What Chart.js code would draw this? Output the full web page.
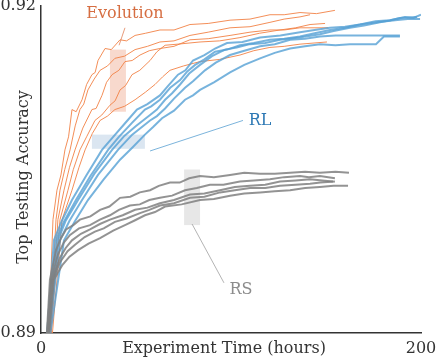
<!DOCTYPE html>
<html>
<head>
<meta charset="utf-8">
<script src="https://cdn.jsdelivr.net/npm/chart.js@4"></script>
<style>
  body { margin: 0; background: #fff; }
</style>
</head>
<body>
<canvas id="chart" width="436" height="364"></canvas>
<script>
// 轴范围与刻度
const xTicks = [0, 200];
const yTicks = [0.89, 0.92];

// Evolution 曲线 (小时, 准确率)
const evo1 = [[3.7,0.8885],[6.3,0.9004],[8.4,0.9031],[10.5,0.9045],[12.6,0.9068],[14.5,0.9080],[16.3,0.9105],[18.5,0.9103],[21.6,0.9114],[24,0.9128],[26.8,0.9137],[28.5,0.9139],[30.0,0.9150],[33.7,0.9161],[37,0.9160],[41.6,0.9169],[45,0.9168],[49.5,0.9173],[55,0.9175],[62.6,0.9178],[70,0.9178],[78.4,0.9183],[88,0.9184],[99.5,0.9187],[110,0.9188],[120.5,0.9192],[128,0.9192],[136.3,0.9194],[145,0.9193],[154.7,0.9196]];
const evo2 = [[4.2,0.8885],[7.9,0.9004],[10.0,0.9031],[12.5,0.9050],[15.3,0.9068],[18,0.9090],[20.5,0.9105],[22.5,0.9110],[24.7,0.9123],[28,0.9133],[31.1,0.9141],[35,0.9145],[38.9,0.9152],[44,0.9154],[49.5,0.9160],[56,0.9163],[62.6,0.9167],[70,0.9168],[78.4,0.9173],[88,0.9176],[99.5,0.9180],[110,0.9181],[120.5,0.9185],[128,0.9188],[136.3,0.9190],[141.6,0.9192]];
const evo3 = [[4.7,0.8885],[8.9,0.9004],[12.1,0.9031],[15,0.9052],[17.9,0.9068],[22,0.9088],[26.8,0.9105],[29,0.9106],[32.1,0.9118],[34.5,0.9130],[37.4,0.9137],[41,0.9141],[44.2,0.9149],[48,0.9150],[52.1,0.9155],[57,0.9159],[62.6,0.9161],[70,0.9163],[78.4,0.9169],[88,0.9170],[99.5,0.9173],[110,0.9176],[120.5,0.9178],[128,0.9178],[136.3,0.9180],[151.1,0.9180]];
const evo4 = [[4.7,0.8885],[10.0,0.9004],[14.2,0.9031],[17,0.9050],[20.5,0.9068],[24,0.9080],[28.4,0.9095],[32,0.9100],[36.3,0.9109],[39,0.9113],[41.6,0.9123],[44.5,0.9127],[47.9,0.9137],[52,0.9141],[57.4,0.9150],[61,0.9158],[65.3,0.9164],[72,0.9165],[83.7,0.9167],[94,0.9168],[104.7,0.9171],[115,0.9175],[125.8,0.9178],[134,0.9180],[141.6,0.9183],[149.5,0.9184]];
const evo5 = [[5.3,0.8885],[11.1,0.9004],[16.3,0.9031],[20,0.9052],[23.2,0.9068],[27,0.9083],[31.1,0.9095],[35,0.9099],[38.9,0.9105],[44,0.9108],[49.5,0.9114],[55,0.9121],[60.0,0.9128],[64,0.9135],[67.9,0.9141],[75,0.9145],[83.7,0.9149],[94,0.9151],[104.7,0.9155],[112,0.9159],[120.5,0.9162],[128,0.9163],[136.3,0.9165],[150.5,0.9167]];

// RL 曲线
const rl1 = [[2.6,0.8885],[6.8,0.8985],[11,0.9003],[16.3,0.9022],[24,0.9045],[32.1,0.9068],[38,0.9080],[44,0.9092],[50.5,0.9105],[56,0.9110],[62.6,0.9118],[67,0.9127],[72.1,0.9137],[76,0.9141],[80.0,0.9150],[86,0.9155],[91.6,0.9161],[97.9,0.9166],[106,0.9167],[115.3,0.9171],[126,0.9173],[136.3,0.9176],[144,0.9178],[152.1,0.9180],[160,0.9181],[167.9,0.9183],[176,0.9186],[183.7,0.9187],[191.6,0.9190],[196,0.9189],[200,0.9192]];
const rl2 = [[2.6,0.8885],[7.9,0.8985],[12,0.9002],[18.4,0.9022],[26,0.9044],[35.3,0.9068],[41,0.9080],[48,0.9093],[54.7,0.9105],[58,0.9108],[62.6,0.9114],[68,0.9125],[73.2,0.9132],[77,0.9140],[81.1,0.9146],[86,0.9151],[91.6,0.9158],[98,0.9160],[104.7,0.9164],[112,0.9166],[120.5,0.9169],[128,0.9170],[136.3,0.9172],[144,0.9175],[152.1,0.9178],[160,0.9180],[167.9,0.9183],[177,0.9185],[186.3,0.9187],[193,0.9188],[199.5,0.9188]];
const rl3 = [[3.2,0.8885],[8.9,0.8985],[13,0.9003],[19.5,0.9022],[28,0.9046],[37.4,0.9068],[44,0.9081],[50,0.9090],[57.4,0.9100],[61,0.9105],[65.3,0.9114],[69,0.9120],[73.2,0.9128],[78,0.9138],[83.7,0.9146],[90,0.9154],[96.8,0.9160],[103,0.9162],[110.0,0.9165],[118,0.9166],[125.8,0.9169],[136,0.9171],[146.8,0.9174],[154,0.9177],[162.6,0.9180],[170,0.9182],[178.4,0.9185],[184,0.9187],[188.9,0.9189],[197.9,0.9190]];
const rl4 = [[3.2,0.8885],[10.0,0.8985],[15,0.9003],[21.6,0.9022],[30,0.9045],[40.5,0.9068],[48,0.9082],[57.4,0.9095],[61,0.9099],[65.3,0.9106],[70,0.9115],[75.8,0.9125],[80,0.9131],[86.3,0.9141],[92,0.9148],[99.5,0.9155],[107,0.9159],[115.3,0.9163],[123,0.9165],[131.1,0.9169],[139,0.9170],[146.8,0.9172],[155,0.9173],[162.6,0.9173],[188.9,0.9173]];
const rl5 = [[3.7,0.8885],[12.1,0.8985],[18,0.9003],[24.7,0.9022],[33,0.9041],[41.6,0.9059],[48,0.9070],[54.7,0.9082],[59,0.9089],[63.7,0.9097],[70,0.9104],[75.8,0.9114],[80,0.9118],[83.7,0.9123],[91,0.9130],[99.5,0.9139],[107,0.9146],[115.3,0.9152],[123,0.9157],[131.1,0.9161],[139,0.9163],[146.8,0.9165],[155,0.9164],[162.6,0.9165],[176.3,0.9165],[180.5,0.9172],[188.9,0.9172]];

// RS 曲线
const rs1 = [[2.6,0.8885],[4.7,0.8949],[7.9,0.8976],[10.5,0.8987],[13.2,0.8995],[17,0.8999],[20.5,0.9004],[26,0.9007],[31.1,0.9013],[36,0.9016],[41.6,0.9024],[47,0.9025],[52,0.9029],[57.4,0.9031],[62,0.9035],[67.9,0.9038],[73,0.9038],[78,0.9042],[83.7,0.9044],[91,0.9043],[99.5,0.9045],[107,0.9047],[115.3,0.9046],[123,0.9046],[131.1,0.9047],[139,0.9048],[146.8,0.9047],[155,0.9048],[162.1,0.9047]];
const rs2 = [[2.6,0.8885],[5.3,0.8949],[8.9,0.8972],[12,0.8983],[15.3,0.8990],[20,0.8996],[25.8,0.8999],[31,0.9004],[36.3,0.9008],[41,0.9013],[46.8,0.9017],[52,0.9018],[57,0.9022],[62.6,0.9024],[69,0.9026],[75.8,0.9031],[82,0.9033],[88.9,0.9036],[96,0.9036],[104.7,0.9039],[112,0.9040],[120.5,0.9041],[128,0.9043],[136.3,0.9044],[141,0.9043],[146.8,0.9044],[154.7,0.9042]];
const rs3 = [[3.2,0.8885],[5.8,0.8949],[10.0,0.8969],[13,0.8978],[16.3,0.8985],[21,0.8991],[25.8,0.8995],[31,0.9000],[36.3,0.9004],[43,0.9008],[49.5,0.9013],[56,0.9015],[62.6,0.9019],[70,0.9022],[78.4,0.9027],[86,0.9028],[94.2,0.9031],[102,0.9034],[110.0,0.9035],[118,0.9036],[125.8,0.9039],[134,0.9040],[141.6,0.9041],[148,0.9040],[153.7,0.9039]];
const rs4 = [[3.2,0.8885],[6.3,0.8949],[10.0,0.8965],[14,0.8975],[17.9,0.8981],[23,0.8988],[28.4,0.8993],[33,0.8996],[38.9,0.9002],[45,0.9005],[52.1,0.9010],[57,0.9013],[62.6,0.9017],[70,0.9019],[78.4,0.9024],[86,0.9025],[94.2,0.9029],[102,0.9031],[110.0,0.9033],[118,0.9033],[125.8,0.9035],[134,0.9036],[141.6,0.9037],[147,0.9038],[154.7,0.9039]];
const rs5 = [[3.7,0.8885],[6.8,0.8949],[11.1,0.8962],[15,0.8970],[19.5,0.8976],[25,0.8982],[31.1,0.8987],[38,0.8994],[44.2,0.8999],[49,0.9003],[54.7,0.9008],[60,0.9011],[65.3,0.9016],[74,0.9018],[83.7,0.9022],[91,0.9023],[99.5,0.9026],[107,0.9028],[115.3,0.9029],[123,0.9030],[131.1,0.9031],[139,0.9033],[146.8,0.9034],[154,0.9035],[161.6,0.9035]];

// 阴影框 [x0, x1, y0, y1]
const evoBox = [36.3, 44.7, 0.9103, 0.9160];
const rlBox = [26.8, 54.7, 0.9069, 0.9082];
const rsBox = [75.3, 83.7, 0.8999, 0.9050];

// 标注: 文字位置和引线端点
const evoLabel = { text: 'Evolution', at: [44.2, 0.9193], line: [[44.2, 0.9180], [41.1, 0.9164]] };
const rlLabel = { text: 'RL', at: [115.3, 0.9095], line: [[106.3, 0.9095], [57.4, 0.9067]] };
const rsLabel = { text: 'RS', at: [105.3, 0.8940], line: [[79.5, 0.9000], [96.3, 0.8946]] };

const ORANGE = 'rgba(242, 130, 70, 0.9)';
const BLUE = 'rgba(85, 160, 212, 0.8)';
const GRAY = 'rgba(128, 128, 128, 0.85)';
const FONT = 'DejaVu Serif';

function series(arr, color, width) {
    return {
        data: arr.map(p => ({ x: p[0], y: p[1] })),
        borderColor: color,
        borderWidth: width,
        pointRadius: 0,
        tension: 0,
        fill: false
    };
}

const extras = {
    id: 'extras',
    beforeDatasetsDraw(chart) {
        const { ctx, scales: { x, y } } = chart;
        const box = (b, color) => {
            const x0 = x.getPixelForValue(b[0]), x1 = x.getPixelForValue(b[1]);
            const y0 = y.getPixelForValue(b[2]), y1 = y.getPixelForValue(b[3]);
            ctx.fillStyle = color;
            ctx.fillRect(x0, y1, x1 - x0, y0 - y1);
        };
        ctx.save();
        box(evoBox, 'rgba(240, 170, 145, 0.45)');
        box(rlBox, 'rgba(190, 210, 230, 0.55)');
        box(rsBox, 'rgba(215, 215, 215, 0.6)');
        ctx.restore();
    },
    afterDraw(chart) {
        const { ctx, scales: { x, y } } = chart;
        ctx.save();
        const label = (l, color, lineColor) => {
            ctx.strokeStyle = lineColor;
            ctx.lineWidth = 1;
            ctx.beginPath();
            ctx.moveTo(x.getPixelForValue(l.line[0][0]), y.getPixelForValue(l.line[0][1]));
            ctx.lineTo(x.getPixelForValue(l.line[1][0]), y.getPixelForValue(l.line[1][1]));
            ctx.stroke();
            ctx.fillStyle = color;
            ctx.font = '16px "' + FONT + '"';
            ctx.textAlign = 'center';
            ctx.textBaseline = 'middle';
            ctx.fillText(l.text, x.getPixelForValue(l.at[0]), y.getPixelForValue(l.at[1]));
        };
        label(evoLabel, 'rgb(214, 110, 66)', 'rgba(225, 130, 90, 0.8)');
        label(rlLabel, 'rgb(45, 120, 180)', 'rgba(90, 160, 210, 0.8)');
        label(rsLabel, 'rgb(140, 140, 140)', 'rgba(160, 160, 160, 0.8)');

        // 轴标题
        ctx.fillStyle = '#333';
        ctx.font = '16px "' + FONT + '"';
        ctx.textAlign = 'center';
        ctx.textBaseline = 'middle';
        ctx.fillText('Experiment Time (hours)', 224, 349);
        ctx.translate(24, 177);
        ctx.rotate(-Math.PI / 2);
        ctx.fillText('Top Testing Accuracy', 0, 0);
        ctx.restore();
    }
};

document.addEventListener('DOMContentLoaded', () => {
    new Chart(document.getElementById('chart').getContext('2d'), {
        type: 'line',
        data: {
            datasets: [
                ...[rs1, rs2, rs3, rs4, rs5].map(a => series(a, GRAY, 2)),
                ...[rl1, rl2, rl3, rl4, rl5].map(a => series(a, BLUE, 2)),
                ...[evo1, evo2, evo3, evo4, evo5].map(a => series(a, ORANGE, 1))
            ]
        },
        options: {
            responsive: false,
            animation: false,
            layout: { padding: { top: 6, right: 15, left: 0, bottom: 0 } },
            plugins: { legend: { display: false }, tooltip: { enabled: false } },
            scales: {
                x: {
                    type: 'linear',
                    min: xTicks[0],
                    max: xTicks[1],
                    afterBuildTicks: s => { s.ticks = xTicks.map(v => ({ value: v })); },
                    afterFit: s => { s.height = 31; s.paddingLeft = 0; s.paddingRight = 0; },
                    grid: { display: false, drawTicks: false },
                    border: { display: true, color: '#333', width: 1.5 },
                    ticks: {
                        padding: 6,
                        color: '#333',
                        maxRotation: 0,
                        font: { family: FONT, size: 16 },
                        callback: v => String(v)
                    }
                },
                y: {
                    type: 'linear',
                    min: yTicks[0],
                    max: yTicks[1],
                    afterBuildTicks: s => { s.ticks = yTicks.map(v => ({ value: v })); },
                    afterFit: s => { s.width = 41; s.paddingTop = 0; s.paddingBottom = 0; },
                    grid: { display: false, drawTicks: false },
                    border: { display: true, color: '#333', width: 1.5 },
                    ticks: {
                        padding: 5,
                        color: '#333',
                        font: { family: FONT, size: 16 },
                        callback: v => v.toFixed(2)
                    }
                }
            }
        },
        plugins: [extras]
    });
});
</script>
</body>
</html>
